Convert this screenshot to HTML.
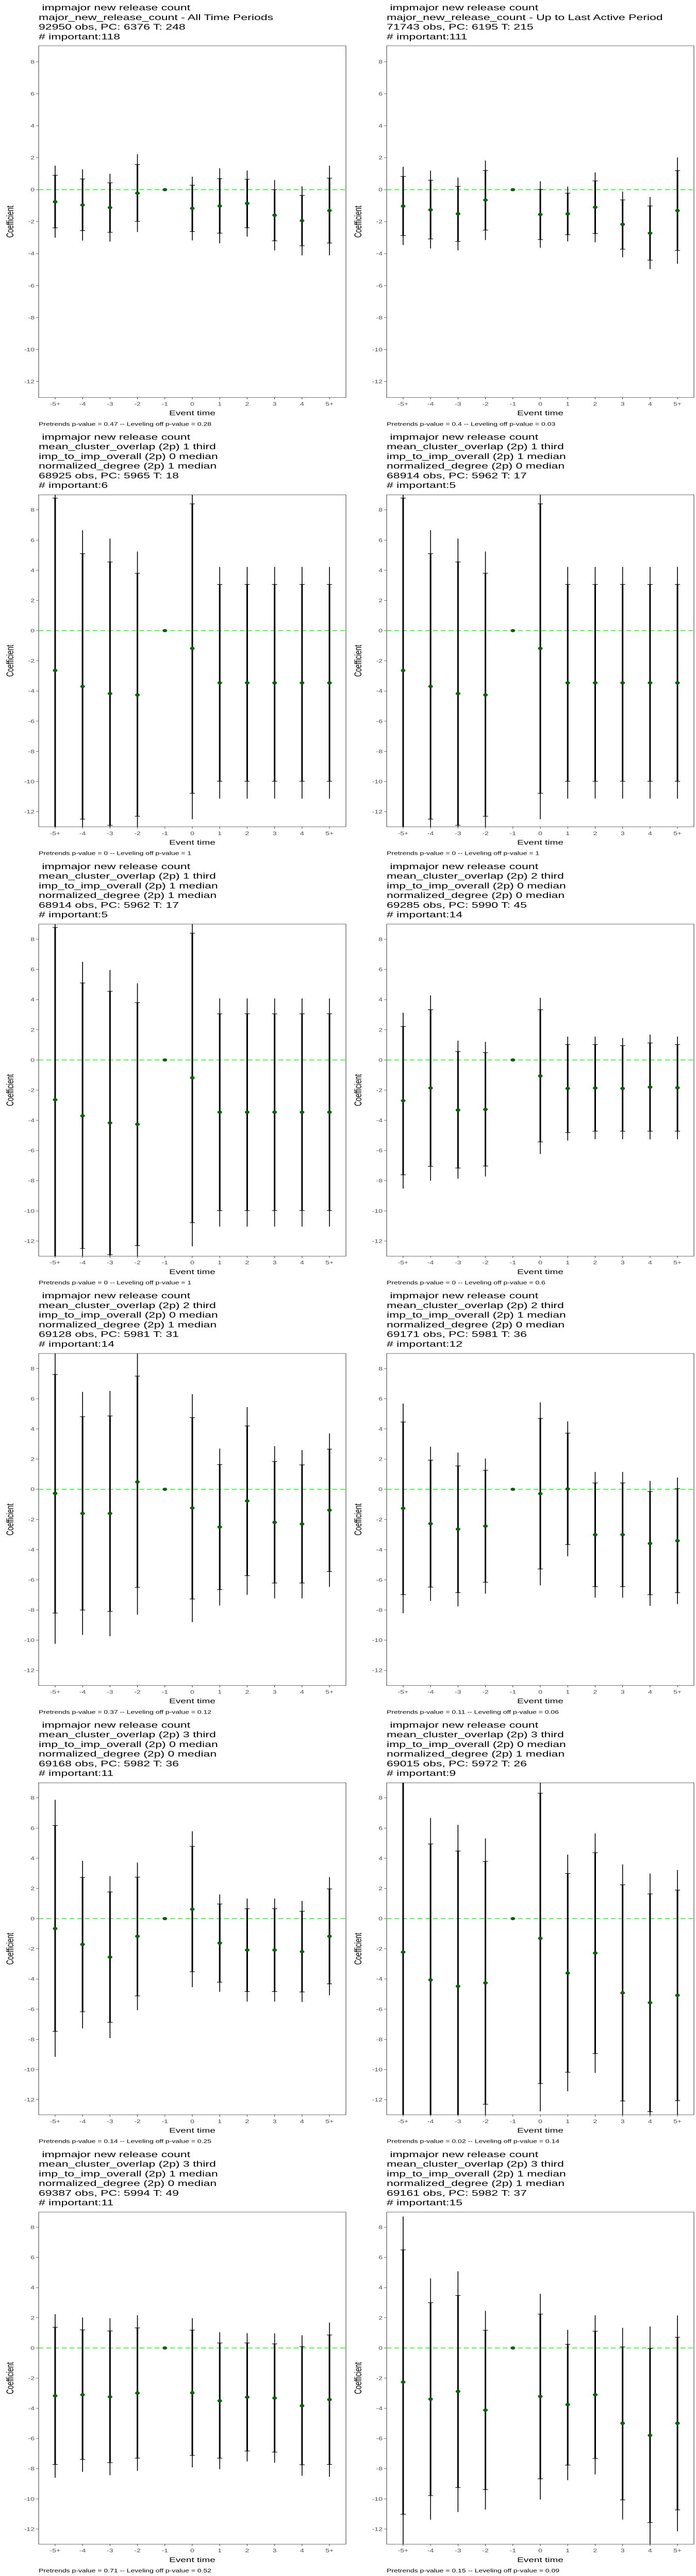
<!DOCTYPE html>
<html><head><meta charset="utf-8"><title>Event study panels</title>
<style>
html,body{margin:0;padding:0;background:#fff;width:100vw;height:100vh;overflow:hidden;}
svg{display:block;font-family:"Liberation Sans",Arial,sans-serif;position:absolute;left:0;top:0;width:100vw;height:100vh;}
</style></head>
<body>
<svg id="fig" xmlns="http://www.w3.org/2000/svg" viewBox="0 0 1350 7200" preserveAspectRatio="none"></svg>
<script>
const categories = ["-5+","-4","-3","-2","-1","0","1","2","3","4","5+"];
const yTicks = [8,6,4,2,0,-2,-4,-6,-8,-10,-12];

const p1_est = [-0.76,-0.96,-1.12,-0.22,0,-1.17,-1.02,-0.86,-1.6,-1.94,-1.31];
const p1_inHi = [0.9,0.67,0.43,1.57,null,0.28,0.69,0.65,0,-0.36,0.72];
const p1_inLo = [-2.39,-2.56,-2.67,-1.98,null,-2.62,-2.72,-2.38,-3.2,-3.51,-3.34];
const p1_outHi = [1.5,1.27,1.0,2.22,null,0.81,1.34,1.2,0.6,0.21,1.5];
const p1_outLo = [-3.0,-3.18,-3.25,-2.65,null,-3.17,-3.36,-2.94,-3.8,-4.11,-4.11];

const p2_est = [-1.03,-1.26,-1.51,-0.65,0,-1.55,-1.51,-1.10,-2.17,-2.72,-1.31];
const p2_inHi = [0.83,0.59,0.21,1.2,null,0.02,-0.22,0.55,-0.64,-1.02,1.19];
const p2_inLo = [-2.87,-3.08,-3.24,-2.53,null,-3.12,-2.82,-2.75,-3.72,-4.41,-3.8];
const p2_outHi = [1.43,1.19,0.76,1.82,null,0.53,0.19,1.08,-0.12,-0.46,2.01];
const p2_outLo = [-3.46,-3.68,-3.8,-3.15,null,-3.63,-3.24,-3.29,-4.23,-4.97,-4.63];

const p3_est = [-2.64,-3.70,-4.17,-4.26,0,-1.18,-3.46,-3.46,-3.46,-3.46,-3.46];
const p3_inHi = [8.78,5.1,4.55,3.8,null,8.4,3.06,3.06,3.06,3.06,3.06];
const p3_inLo = [-14.06,-12.49,-12.9,-12.3,null,-10.78,-9.98,-9.98,-9.98,-9.98,-9.98];
const p3_outHi = [10.9,6.65,6.1,5.24,null,10.1,4.22,4.22,4.22,4.22,4.22];
const p3_outLo = [-16.2,-14.05,-14.4,-13.76,null,-12.49,-11.13,-11.13,-11.13,-11.13,-11.13];

const p4_est = [-2.64,-3.70,-4.17,-4.26,0,-1.18,-3.46,-3.46,-3.46,-3.46,-3.46];
const p4_inHi = [8.78,5.1,4.55,3.8,null,8.4,3.06,3.06,3.06,3.06,3.06];
const p4_inLo = [-14.06,-12.49,-12.9,-12.3,null,-10.78,-9.98,-9.98,-9.98,-9.98,-9.98];
const p4_outHi = [10.9,6.65,6.1,5.24,null,10.1,4.22,4.22,4.22,4.22,4.22];
const p4_outLo = [-16.2,-14.05,-14.4,-13.76,null,-12.49,-11.13,-11.13,-11.13,-11.13,-11.13];

const p5_est = [-2.64,-3.70,-4.17,-4.26,0,-1.18,-3.46,-3.46,-3.46,-3.46,-3.46];
const p5_inHi = [8.78,5.1,4.55,3.8,null,8.4,3.06,3.06,3.06,3.06,3.06];
const p5_inLo = [-14.06,-12.49,-12.9,-12.3,null,-10.78,-9.98,-9.98,-9.98,-9.98,-9.98];
const p5_outHi = [10.9,6.5,5.96,5.08,null,10.1,4.08,4.08,4.08,4.08,4.08];
const p5_outLo = [-16.2,-14.05,-14.4,-13.76,null,-12.35,-11.04,-11.04,-11.04,-11.04,-11.04];

const p6_est = [-2.70,-1.86,-3.32,-3.28,0,-1.06,-1.89,-1.86,-1.89,-1.80,-1.84];
const p6_inHi = [2.22,3.33,0.56,0.49,null,3.33,1.02,1.02,0.95,1.13,1.02];
const p6_inLo = [-7.61,-7.05,-7.16,-7.03,null,-5.43,-4.81,-4.72,-4.72,-4.72,-4.72];
const p6_outHi = [3.13,4.28,1.28,1.2,null,4.12,1.55,1.55,1.46,1.68,1.55];
const p6_outLo = [-8.52,-8.0,-7.87,-7.72,null,-6.23,-5.34,-5.25,-5.25,-5.26,-5.25];

const p7_est = [-0.27,-1.60,-1.60,0.49,0,-1.24,-2.50,-0.77,-2.19,-2.30,-1.38];
const p7_inHi = [7.61,4.81,4.86,7.5,null,4.75,1.64,4.2,1.84,1.62,2.66];
const p7_inLo = [-8.2,-8.0,-8.09,-6.5,null,-7.27,-6.65,-5.72,-6.21,-6.21,-5.45];
const p7_outHi = [9.9,6.45,6.52,9.3,null,6.3,2.7,5.45,2.86,2.6,3.7];
const p7_outLo = [-10.24,-9.65,-9.74,-8.31,null,-8.8,-7.7,-6.99,-7.23,-7.23,-6.47];

const p8_est = [-1.26,-2.28,-2.64,-2.44,0,-0.29,0.02,-3.01,-3.01,-3.59,-3.41];
const p8_inHi = [4.46,1.93,1.55,1.26,null,4.7,3.72,0.42,0.42,-0.15,0.04];
const p8_inLo = [-6.98,-6.48,-6.85,-6.16,null,-5.28,-3.66,-6.45,-6.45,-6.99,-6.85];
const p8_outHi = [5.68,2.82,2.44,2.04,null,5.76,4.5,1.15,1.15,0.56,0.78];
const p8_outLo = [-8.21,-7.4,-7.76,-6.92,null,-6.36,-4.44,-7.18,-7.18,-7.72,-7.6];

const p9_est = [-0.66,-1.71,-2.55,-1.17,0,0.62,-1.62,-2.08,-2.08,-2.19,-1.17];
const p9_inHi = [6.17,2.73,1.77,2.75,null,4.79,0.97,0.66,0.66,0.49,1.97];
const p9_inLo = [-7.47,-6.17,-6.87,-5.12,null,-3.52,-4.21,-4.83,-4.83,-4.86,-4.32];
const p9_outHi = [7.87,3.83,2.82,3.72,null,5.79,1.6,1.33,1.33,1.17,2.75];
const p9_outLo = [-9.16,-7.27,-7.92,-6.07,null,-4.54,-4.85,-5.5,-5.5,-5.52,-5.08];

const p10_est = [-2.22,-4.06,-4.48,-4.26,0,-1.31,-3.61,-2.28,-4.92,-5.57,-5.08];
const p10_inHi = [9.8,4.95,4.48,3.79,null,8.31,2.99,4.37,2.24,1.64,1.89];
const p10_inLo = [-14.2,-13.07,-13.44,-12.3,null,-10.93,-10.18,-8.94,-12.08,-12.79,-12.06];
const p10_outHi = [12.3,6.67,6.21,5.32,null,10.1,4.24,5.65,3.59,2.99,3.22];
const p10_outLo = [-16.7,-14.8,-15.2,-13.8,null,-12.77,-11.44,-10.22,-13.4,-14.1,-13.4];

const p11_est = [-3.17,-3.10,-3.24,-2.99,0,-2.97,-3.50,-3.26,-3.32,-3.83,-3.42];
const p11_inHi = [1.37,1.2,1.13,1.33,null,1.18,0.33,0.33,0.27,0.09,0.86];
const p11_inLo = [-7.72,-7.38,-7.6,-7.3,null,-7.12,-7.3,-6.83,-6.9,-7.74,-7.72];
const p11_outHi = [2.24,2.02,1.97,2.17,null,1.97,1.04,0.98,0.97,0.84,1.68];
const p11_outLo = [-8.6,-8.21,-8.43,-8.14,null,-7.91,-8.03,-7.52,-7.6,-8.47,-8.54];

const p12_est = [-2.26,-3.39,-2.88,-4.12,0,-3.21,-3.75,-3.10,-4.99,-5.79,-4.99];
const p12_inHi = [6.5,3.0,3.48,1.17,null,2.24,0.24,1.11,0.07,-0.04,0.71];
const p12_inLo = [-11.02,-9.78,-9.25,-9.38,null,-8.67,-7.76,-7.32,-10.07,-11.57,-10.73];
const p12_outHi = [8.71,4.61,5.08,2.46,null,3.59,1.2,2.17,1.33,1.42,2.15];
const p12_outLo = [-13.2,-11.38,-10.87,-10.71,null,-10.04,-8.76,-8.38,-11.37,-13.0,-12.15];

const panelTitles = [
 [" impmajor new release count","major_new_release_count - All Time Periods","92950 obs, PC: 6376 T: 248","# important:118"],
 [" impmajor new release count","major_new_release_count - Up to Last Active Period","71743 obs, PC: 6195 T: 215","# important:111"],
 [" impmajor new release count","mean_cluster_overlap (2p) 1 third","imp_to_imp_overall (2p) 0 median","normalized_degree (2p) 1 median","68925 obs, PC: 5965 T: 18","# important:6"],
 [" impmajor new release count","mean_cluster_overlap (2p) 1 third","imp_to_imp_overall (2p) 1 median","normalized_degree (2p) 0 median","68914 obs, PC: 5962 T: 17","# important:5"],
 [" impmajor new release count","mean_cluster_overlap (2p) 1 third","imp_to_imp_overall (2p) 1 median","normalized_degree (2p) 1 median","68914 obs, PC: 5962 T: 17","# important:5"],
 [" impmajor new release count","mean_cluster_overlap (2p) 2 third","imp_to_imp_overall (2p) 0 median","normalized_degree (2p) 0 median","69285 obs, PC: 5990 T: 45","# important:14"],
 [" impmajor new release count","mean_cluster_overlap (2p) 2 third","imp_to_imp_overall (2p) 0 median","normalized_degree (2p) 1 median","69128 obs, PC: 5981 T: 31","# important:14"],
 [" impmajor new release count","mean_cluster_overlap (2p) 2 third","imp_to_imp_overall (2p) 1 median","normalized_degree (2p) 0 median","69171 obs, PC: 5981 T: 36","# important:12"],
 [" impmajor new release count","mean_cluster_overlap (2p) 3 third","imp_to_imp_overall (2p) 0 median","normalized_degree (2p) 0 median","69168 obs, PC: 5982 T: 36","# important:11"],
 [" impmajor new release count","mean_cluster_overlap (2p) 3 third","imp_to_imp_overall (2p) 0 median","normalized_degree (2p) 1 median","69015 obs, PC: 5972 T: 26","# important:9"],
 [" impmajor new release count","mean_cluster_overlap (2p) 3 third","imp_to_imp_overall (2p) 1 median","normalized_degree (2p) 0 median","69387 obs, PC: 5994 T: 49","# important:11"],
 [" impmajor new release count","mean_cluster_overlap (2p) 3 third","imp_to_imp_overall (2p) 1 median","normalized_degree (2p) 1 median","69161 obs, PC: 5982 T: 37","# important:15"]
];
const pretrendsP = ["0.47","0.4","0","0","0","0","0.37","0.11","0.14","0.02","0.71","0.15"];
const levelingP = ["0.28","0.03","1","1","1","0.6","0.12","0.06","0.25","0.14","0.52","0.09"];

const panels = [
 [p1_est,p1_inLo,p1_inHi,p1_outLo,p1_outHi],[p2_est,p2_inLo,p2_inHi,p2_outLo,p2_outHi],
 [p3_est,p3_inLo,p3_inHi,p3_outLo,p3_outHi],[p4_est,p4_inLo,p4_inHi,p4_outLo,p4_outHi],
 [p5_est,p5_inLo,p5_inHi,p5_outLo,p5_outHi],[p6_est,p6_inLo,p6_inHi,p6_outLo,p6_outHi],
 [p7_est,p7_inLo,p7_inHi,p7_outLo,p7_outHi],[p8_est,p8_inLo,p8_inHi,p8_outLo,p8_outHi],
 [p9_est,p9_inLo,p9_inHi,p9_outLo,p9_outHi],[p10_est,p10_inLo,p10_inHi,p10_outLo,p10_outHi],
 [p11_est,p11_inLo,p11_inHi,p11_outLo,p11_outHi],[p12_est,p12_inLo,p12_inHi,p12_outLo,p12_outHi]
];
const Y_MIN = -13, Y_MAX = 9;

const NS = "http://www.w3.org/2000/svg";
const svg = document.getElementById("fig");
function mk(tag, parent, attrs){
  const e = document.createElementNS(NS, tag);
  for (const k in attrs) e.setAttribute(k, attrs[k]);
  parent.appendChild(e);
  return e;
}
const defs = mk("defs", svg, {});

panels.forEach((pd, p) => {
  const col = p % 2, row = Math.floor(p / 2);
  const cx = col * 675, ry = row * 1200;
  const titles = panelTitles[p];
  const L = cx + 75, R = cx + 671;
  const T = ry + (titles.length === 4 ? 128 : 183), B = ry + 1111;
  const yS = v => B - (v - Y_MIN) / (Y_MAX - Y_MIN) * (B - T);
  const step = (R - L) / 11.2;
  const xS = i => L + (i + 0.6) * step;

  const g = mk("g", svg, {});
  
  

  const tg = mk("g", g, {});
  
  
  titles.forEach((s, k) => {
    const t = mk("text", tg, {x: L, y: ry + 29 + 27 * k, "font-size": 23, fill: "#000"});
    t.style.whiteSpace = "pre";
    t.textContent = s;
  });

  const cp = mk("clipPath", defs, {id: "clip" + p});
  mk("rect", cp, {x: L, y: T, width: R - L, height: B - T});

  const frame = mk("rect", g, {x: L, y: T, width: R - L, height: B - T, fill: "#fff", stroke: "#333", "stroke-width": 1});
  
  

  const yax = mk("g", g, {});
  
  
  yTicks.forEach(v => {
    const y = yS(v);
    mk("line", yax, {x1: L - 5, x2: L, y1: y, y2: y, stroke: "#333", "stroke-width": 1});
    const t = mk("text", yax, {x: L - 8, y: y + 5, "font-size": 14, fill: "#4d4d4d", "text-anchor": "end"});
    t.textContent = String(v);
  });
  const xax = mk("g", g, {});
  
  
  categories.forEach((c, i) => {
    const x = xS(i);
    mk("line", xax, {x1: x, x2: x, y1: B, y2: B + 5, stroke: "#333", "stroke-width": 1});
    const t = mk("text", xax, {x: x, y: ry + 1134, "font-size": 14, fill: "#4d4d4d", "text-anchor": "middle"});
    t.textContent = c;
  });

  const xt = mk("text", g, {x: (L + R) / 2, y: ry + 1161, "font-size": 19, fill: "#000", "text-anchor": "middle"});
  
  
  xt.textContent = "Event time";
  const ycy = (T + B) / 2;
  const yt = mk("text", g, {x: cx + 26, y: ycy, "font-size": 19, fill: "#000", "text-anchor": "middle", transform: "rotate(-90 " + (cx + 26) + " " + ycy + ")"});
  
  
  yt.textContent = "Coefficient";
  const ft = mk("text", g, {x: L, y: ry + 1190, "font-size": 14, fill: "#000"});
  
  
  ft.textContent = "Pretrends p-value = " + pretrendsP[p] + " -- Leveling off p-value = " + levelingP[p];

  const marks = mk("g", g, {"clip-path": "url(#clip" + p + ")"});
  
  
  const zl = mk("line", marks, {x1: L, x2: R, y1: yS(0), y2: yS(0), stroke: "#00ff00", "stroke-width": 2, "stroke-dasharray": "9,6"});
  
  

  const [est, inLo, inHi, outLo, outHi] = pd;
  categories.forEach((c, i) => {
    const x = xS(i);
    if (outHi[i] !== null) {
      const o = mk("line", marks, {x1: x, x2: x, y1: yS(outHi[i]), y2: yS(outLo[i]), stroke: "#000", "stroke-width": 1.6});
      
      
      const n = mk("line", marks, {x1: x, x2: x, y1: yS(inHi[i]), y2: yS(inLo[i]), stroke: "#000", "stroke-width": 3});
      
      
      [inHi[i], inLo[i]].forEach(v => {
        const cap = mk("line", marks, {x1: x - 5, x2: x + 5, y1: yS(v), y2: yS(v), stroke: "#000", "stroke-width": 1.6});
        
        
      });
    }
    const pt = mk("circle", marks, {cx: x, cy: yS(est[i]), r: 4.5, fill: "#006400"});
    
    
  });
});
</script>
</body></html>
